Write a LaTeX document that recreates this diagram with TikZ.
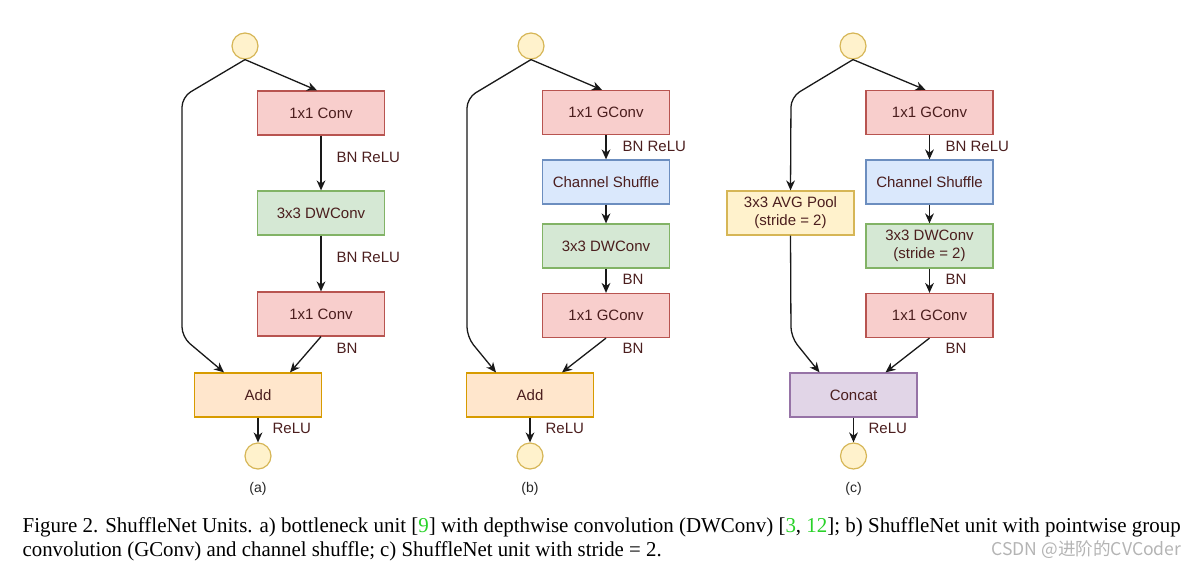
\documentclass[tikz,border=0pt]{standalone}
\usepackage{fontspec}
\setmainfont{Liberation Serif}
\setsansfont{Liberation Sans}
\newfontfamily\cjkfont{Noto Sans CJK SC}
\usepackage{graphicx}
\usetikzlibrary{arrows.meta}

\definecolor{redfill}{HTML}{F8CECC}
\definecolor{redline}{HTML}{B85450}
\definecolor{greenfill}{HTML}{D5E8D4}
\definecolor{greenline}{HTML}{82B366}
\definecolor{bluefill}{HTML}{DAE8FC}
\definecolor{blueline}{HTML}{6C8EBF}
\definecolor{orangefill}{HTML}{FFE6CC}
\definecolor{orangeline}{HTML}{D79B00}
\definecolor{yellowfill}{HTML}{FFF2CC}
\definecolor{yellowline}{HTML}{D6B656}
\definecolor{purplefill}{HTML}{E1D5E7}
\definecolor{purpleline}{HTML}{9673A6}
\definecolor{textbrown}{RGB}{75,30,30}
\definecolor{refgreen}{RGB}{40,210,40}
\definecolor{wmgray}{RGB}{180,180,180}

\begin{document}
\begin{tikzpicture}[x=0.5pt,y=-0.5pt,
    -{Stealth[length=5pt,width=4.4pt,inset=1.6pt]},line width=0.65pt,color=black!90,
    box/.style={rectangle,draw,line width=0.6pt,minimum width=63.5pt,minimum height=22pt,
        inner sep=1pt,align=center,text=textbrown,font=\sffamily\fontsize{7.5}{9}\selectfont},
    conv node/.style={box,fill=redfill,draw=redline},
    dw node/.style={box,fill=greenfill,draw=greenline},
    shuffle node/.style={box,fill=bluefill,draw=blueline},
    add node/.style={box,fill=orangefill,draw=orangeline},
    pool node/.style={box,fill=yellowfill,draw=yellowline},
    cat node/.style={box,fill=purplefill,draw=purpleline},
    io node/.style={circle,draw=yellowline,fill=yellowfill,line width=0.6pt,minimum size=13pt,inner sep=0pt},
    lbl/.style={anchor=west,inner sep=0pt,text=textbrown,font=\sffamily\fontsize{7.5}{9}\selectfont},
    sub/.style={inner sep=0pt,text=black!85,font=\sffamily\fontsize{7}{9}\selectfont},
    caption/.style={anchor=base west,inner sep=0pt,text=black,font=\rmfamily\fontsize{10.6}{12}\selectfont}]

    \useasboundingbox (0,0) rectangle (1197,567);

    % (a) bottleneck unit
    \node[io node] (ina) at (245,46) {};
    \node[conv node] (c1a) at (321,113) {1x1 Conv};
    \node[dw node] (dwa) at (321,213) {3x3 DWConv};
    \node[conv node] (c2a) at (321,314) {1x1 Conv};
    \node[add node] (adda) at (258,395) {Add};
    \node[io node] (outa) at (258,456) {};
    \node[sub] (suba) at (258,489) {(a)};

    \path
    (ina.south) edge ([xshift=-2pt]c1a.north)
    (c1a) edge (dwa)
    (dwa) edge (c2a)
    (c2a.south) edge ([xshift=16pt]adda.north)
    (adda) edge (outa);
    \draw[rounded corners=5pt] (ina.south) -- (182,97) -- (182,337) -- ([xshift=-17pt]adda.north);

    \node[lbl] (la1) at (336,157) {BN ReLU};
    \node[lbl] (la2) at (336,257) {BN ReLU};
    \node[lbl] (la3) at (336,348) {BN};
    \node[lbl] (la4) at (272,428) {ReLU};

    % (b) shufflenet unit
    \node[io node] (inb) at (531,46) {};
    \node[conv node] (c1b) at (606,112.5) {1x1 GConv};
    \node[shuffle node] (shb) at (606,182) {Channel Shuffle};
    \node[dw node] (dwb) at (606,246) {3x3 DWConv};
    \node[conv node] (c2b) at (606,315.5) {1x1 GConv};
    \node[add node] (addb) at (530,395) {Add};
    \node[io node] (outb) at (530,456) {};
    \node[sub] (subb) at (530,489) {(b)};

    \path
    (inb.south) edge ([xshift=-2pt]c1b.north)
    (c1b) edge (shb)
    (shb) edge (dwb)
    (dwb) edge (c2b)
    (c2b.south) edge ([xshift=16pt]addb.north)
    (addb) edge (outb);
    \draw[rounded corners=5pt] (inb.south) -- (467,98) -- (467,337) -- ([xshift=-17pt]addb.north);

    \node[lbl] (lb1) at (622,146) {BN ReLU};
    \node[lbl] (lb2) at (622,279) {BN};
    \node[lbl] (lb3) at (622,348) {BN};
    \node[lbl] (lb4) at (545,428) {ReLU};

    % (c) shufflenet unit, stride 2
    \node[io node] (inc) at (853,46) {};
    \node[conv node] (c1c) at (929.5,112.5) {1x1 GConv};
    \node[shuffle node] (shc) at (929.5,182) {Channel Shuffle};
    \node[dw node] (dwc) at (929.5,246) {3x3 DWConv\\(stride = 2)};
    \node[conv node] (c2c) at (929.5,315.5) {1x1 GConv};
    \node[pool node] (poolc) at (790.5,213) {3x3 AVG Pool\\(stride = 2)};
    \node[cat node] (catc) at (853.5,395) {Concat};
    \node[io node] (outc) at (853.5,456) {};
    \node[sub] (subc) at (853.5,489) {(c)};

    \path
    (inc.south) edge ([xshift=-2pt]c1c.north)
    (c1c) edge (shc)
    (shc) edge (dwc)
    (dwc) edge (c2c)
    (c2c.south) edge ([xshift=16pt]catc.north)
    (catc) edge (outc);
    \draw[rounded corners=5pt] (inc.south) -- (791,97) -- (poolc.north);
    \draw[rounded corners=5pt] (poolc.south) -- (791,337) -- ([xshift=-17pt]catc.north);

    \node[lbl] (lc1) at (945,146) {BN ReLU};
    \node[lbl] (lc2) at (945,279) {BN};
    \node[lbl] (lc3) at (945,348) {BN};
    \node[lbl] (lc4) at (868,428) {ReLU};

    % caption
    \node[caption] (cap1) at (22,532)
      {\resizebox{579pt}{\height}{Figure 2. ShuffleNet Units. a) bottleneck unit [\textcolor{refgreen}{9}] with depthwise convolution (DWConv) [\textcolor{refgreen}{3}, \textcolor{refgreen}{12}]; b) ShuffleNet unit with pointwise group}};
    \node[caption] (cap2) at (22,556)
      {\resizebox{319.5pt}{\height}{convolution (GConv) and channel shuffle; c) ShuffleNet unit with stride = 2.}};
    \node[anchor=base east,inner sep=0pt,text=wmgray,font=\cjkfont\fontsize{8.8}{10}\selectfont] (wm) at (1182,555) {CSDN @进阶的CVCoder};
\end{tikzpicture}
\end{document}
